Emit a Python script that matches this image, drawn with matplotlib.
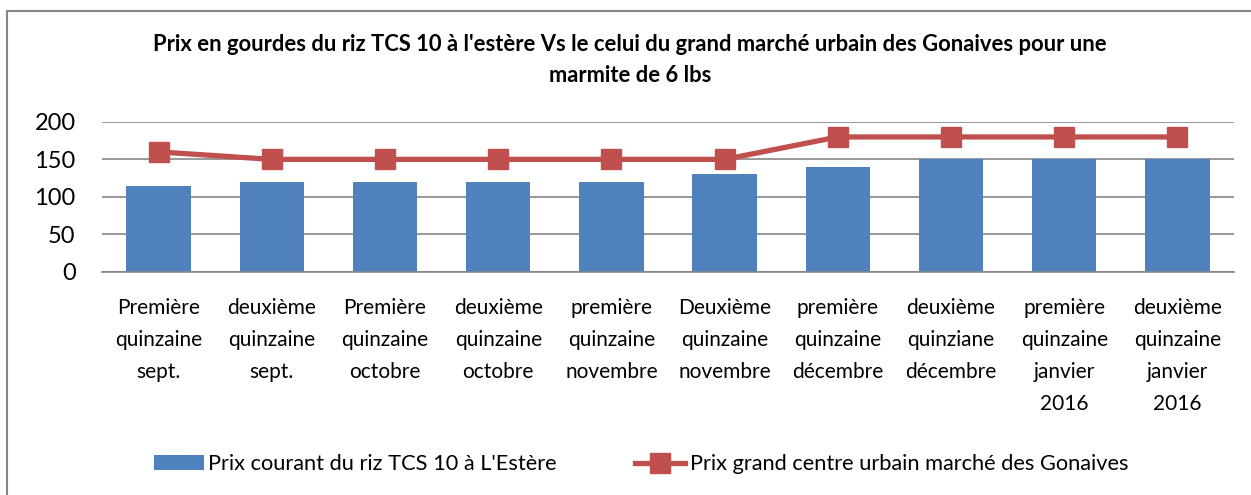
import matplotlib
matplotlib.use("Agg")
import matplotlib.pyplot as plt
from matplotlib.patches import Rectangle
import numpy as np

categories = [
    "Première\nquinzaine\nsept.",
    "deuxième\nquinzaine\nsept.",
    "Première\nquinzaine\noctobre",
    "deuxième\nquinzaine\noctobre",
    "première\nquinzaine\nnovembre",
    "Deuxième\nquinzaine\nnovembre",
    "première\nquinzaine\ndécembre",
    "deuxième\nquinziane\ndécembre",
    "première\nquinzaine\njanvier\n2016",
    "deuxième\nquinzaine\njanvier\n2016",
]
prix_estere = [115, 120, 120, 120, 120, 130, 140, 150, 150, 150]
prix_gonaives = [160, 150, 150, 150, 150, 150, 180, 180, 180, 180]
yticks = [0, 50, 100, 150, 200]

title = ("Prix en gourdes du riz TCS 10 à l'estère Vs le celui du grand marché urbain des Gonaives pour une\n"
         "marmite de 6 lbs")
label_bar = "Prix courant du riz TCS 10 à L'Estère"
label_line = "Prix grand centre urbain marché des Gonaives"

plt.rcParams['font.family'] = ['Lato', 'DejaVu Sans']

W, H = 1251, 495
fig = plt.figure(figsize=(W / 100, H / 100), dpi=100)

# outer chart border
fig.patches.append(Rectangle((7 / W, -0.1), (1270 - 7) / W, (H - 10.5) / H + 0.1,
                             transform=fig.transFigure, fill=False,
                             edgecolor="#868686", linewidth=1.5))

left, right = 102 / W, 1234 / W
top, bottom = 1 - 122 / H, 1 - 271.5 / H
ax = fig.add_axes([left, bottom, right - left, top - bottom])

x = np.arange(len(categories))
blue = "#4F81BD"
red = "#C0504D"
bars = ax.bar(x, prix_estere, width=0.57, color=blue, zorder=2, label=label_bar)
line, = ax.plot(x, prix_gonaives, color=red, linewidth=3.8, marker="s", markersize=15,
                zorder=3, label=label_line)

ax.set_xlim(-0.5, len(categories) - 0.5)
ax.set_ylim(0, 200)
ax.set_yticks(yticks)
ax.set_yticklabels([str(v) for v in yticks], fontsize=17)
ax.yaxis.grid(True, color="#868686", linewidth=1.2, zorder=0)
ax.set_axisbelow(True)
for s in ["top", "right", "left"]:
    ax.spines[s].set_visible(False)
ax.spines["bottom"].set_color("#868686")
ax.spines["bottom"].set_linewidth(1.2)
ax.tick_params(axis="y", length=0, pad=19)
ax.tick_params(axis="x", length=0, pad=19)
ax.set_xticks(x)
ax.set_xticklabels(categories, fontsize=15, linespacing=1.76, va="top")

fig.text(630 / W, 1 - 60 / H, title, ha="center", va="center",
         fontsize=15.8, fontweight="bold", linespacing=1.55)

leg = fig.legend([bars, line], [label_bar, label_line], loc="center",
                 bbox_to_anchor=(641 / W, 1 - 464 / H), ncol=2,
                 frameon=False, fontsize=15.7, handlelength=2.3, handleheight=0.65,
                 handletextpad=0.2, columnspacing=3.6)

fig.savefig("out.png", dpi=100)
